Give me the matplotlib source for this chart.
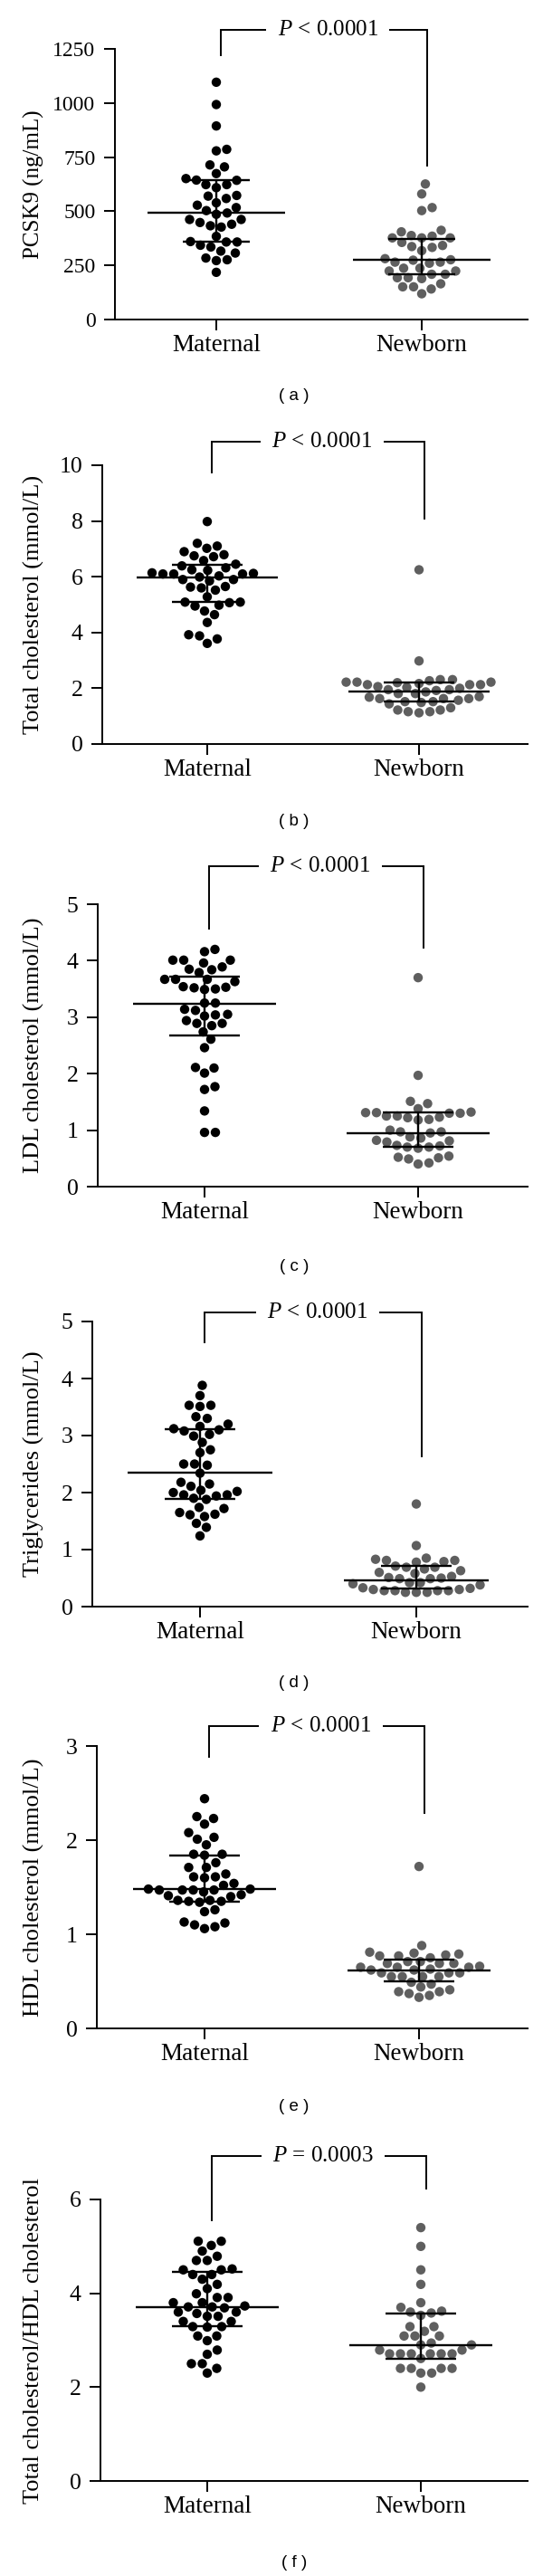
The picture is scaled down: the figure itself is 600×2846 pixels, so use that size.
import numpy as np
import matplotlib
matplotlib.use("Agg")
import matplotlib.pyplot as plt

plt.rcParams["font.family"] = ["Liberation Serif", "DejaVu Serif"]
plt.rcParams["mathtext.fontset"] = "custom"
plt.rcParams["mathtext.rm"] = "Liberation Serif"
plt.rcParams["mathtext.it"] = "Liberation Serif:italic"

W, H, DPI = 600, 2846, 100

groups = ["Maternal", "Newborn"]
tags = ["( a )", "( b )", "( c )", "( d )", "( e )", "( f )"]
ylabels = ["PCSK9 (ng/mL)", "Total cholesterol (mmol/L)", "LDL cholesterol (mmol/L)",
           "Triglycerides (mmol/L)", "HDL cholesterol (mmol/L)",
           "Total cholesterol/HDL cholesterol"]
p_texts = ["$P$ < 0.0001"] * 5 + ["$P$ = 0.0003"]
ymax = [1250, 10, 5, 5, 3, 6]
ystep = [250, 2, 1, 1, 1, 2]

# values
pcsk9_mat = [1096, 993, 894, 786, 779, 714, 705, 674, 651, 644, 643, 623, 623, 609, 573,
             570, 559, 539, 528, 517, 503, 492, 486, 462, 462, 448, 440, 433, 427, 384,
             360, 358, 358, 343, 335, 316, 307, 284, 276, 272, 218]
pcsk9_new = [626, 580, 517, 503, 412, 388, 377, 377, 377, 385, 405, 342, 333, 337, 356,
             318, 276, 265, 260, 265, 274, 281, 237, 224, 224, 237, 209, 193, 189, 193,
             209, 165, 151, 141, 151, 119]
tc_mat = [7.98, 7.20, 7.02, 7.10, 6.90, 6.79, 6.72, 6.75, 6.58, 6.45, 6.39, 6.32, 6.25,
          6.23, 6.12, 6.10, 6.03, 6.10, 6.10, 6.14, 5.99, 5.90, 5.90, 5.85, 5.63, 5.52,
          5.60, 5.65, 5.28, 5.09, 4.98, 4.95, 5.07, 5.09, 4.77, 4.64, 4.36, 3.88, 3.92,
          3.77, 3.61]
tc_new = [6.25, 2.98, 2.22, 2.22, 2.17, 2.13, 2.06, 2.31, 2.27, 2.31, 2.13, 2.13, 2.20,
          2.22, 1.95, 1.87, 1.81, 2.00, 1.95, 2.03, 1.81, 1.92, 1.52, 1.44, 1.63, 1.63,
          1.57, 1.63, 1.68, 1.70, 1.49, 1.52, 1.22, 1.16, 1.12, 1.16, 1.22, 1.30]
ldl_mat = [4.20, 4.16, 4.01, 4.01, 4.01, 3.96, 3.89, 3.84, 3.79, 3.85, 3.67, 3.67, 3.63,
           3.67, 3.53, 3.52, 3.49, 3.50, 3.54, 3.25, 3.25, 3.12, 3.14, 3.05, 3.02, 3.04,
           2.89, 2.85, 2.94, 2.89, 2.74, 2.61, 2.46, 2.10, 2.11, 2.01, 1.72, 1.77, 1.34,
           0.96, 0.96]
ldl_new = [3.70, 1.97, 1.47, 1.51, 1.38, 1.31, 1.30, 1.25, 1.23, 1.19, 1.18, 1.22, 1.25,
           1.30, 1.31, 1.32, 0.97, 0.97, 0.95, 1.00, 0.88, 0.82, 0.79, 0.72, 0.70, 0.68,
           0.70, 0.73, 0.81, 0.86, 0.52, 0.49, 0.40, 0.42, 0.51, 0.54]
tg_mat = [3.88, 3.70, 3.53, 3.51, 3.53, 3.33, 3.30, 3.16, 3.08, 3.20, 3.10, 3.12, 3.02,
          2.99, 2.88, 2.70, 2.75, 2.50, 2.48, 2.50, 2.34, 2.18, 2.15, 2.11, 2.02, 1.96,
          1.94, 1.90, 1.96, 2.00, 2.04, 1.88, 1.72, 1.74, 1.61, 1.58, 1.62, 1.65, 1.46,
          1.39, 1.24]
tg_new = [1.80, 1.07, 0.83, 0.81, 0.78, 0.79, 0.81, 0.85, 0.69, 0.66, 0.69, 0.71, 0.63,
          0.58, 0.60, 0.51, 0.49, 0.50, 0.49, 0.53, 0.42, 0.42, 0.40, 0.38, 0.33, 0.30,
          0.28, 0.28, 0.25, 0.25, 0.25, 0.28, 0.28, 0.30, 0.32]
hdl_mat = [2.44, 2.23, 2.25, 2.17, 2.08, 2.03, 2.01, 1.95, 1.85, 1.85, 1.84, 1.76, 1.71,
           1.71, 1.64, 1.61, 1.60, 1.61, 1.54, 1.52, 1.48, 1.47, 1.45, 1.47, 1.47, 1.47,
           1.48, 1.42, 1.40, 1.41, 1.36, 1.34, 1.36, 1.35, 1.35, 1.24, 1.26, 1.13, 1.10,
           1.06, 1.08, 1.12]
hdl_new = [1.72, 0.88, 0.80, 0.77, 0.77, 0.78, 0.79, 0.81, 0.75, 0.71, 0.71, 0.69, 0.69,
           0.69, 0.65, 0.63, 0.65, 0.62, 0.62, 0.65, 0.66, 0.59, 0.55, 0.55, 0.59, 0.55,
           0.55, 0.59, 0.44, 0.39, 0.37, 0.33, 0.35, 0.39, 0.41, 0.49, 0.47]
ratio_mat = [5.11, 5.11, 5.02, 4.90, 4.79, 4.70, 4.70, 4.50, 4.52, 4.50, 4.40, 4.40, 4.30,
             4.19, 4.10, 3.99, 3.91, 3.91, 3.80, 3.80, 3.71, 3.69, 3.73, 3.71, 3.60, 3.60,
             3.51, 3.51, 3.57, 3.40, 3.40, 3.29, 3.29, 3.28, 3.09, 3.09, 2.99, 2.79, 2.70,
             2.50, 2.50, 2.40, 2.30]
ratio_new = [5.40, 5.00, 4.50, 4.19, 3.80, 3.70, 3.62, 3.53, 3.58, 3.60, 3.29, 3.29, 3.19,
             3.09, 3.09, 3.09, 2.94, 2.90, 2.90, 2.79, 2.79, 2.71, 2.71, 2.71, 2.61, 2.71,
             2.71, 2.71, 2.40, 2.40, 2.30, 2.30, 2.40, 2.40, 2.00]

maternal = [pcsk9_mat, tc_mat, ldl_mat, tg_mat, hdl_mat, ratio_mat]
newborn = [pcsk9_new, tc_new, ldl_new, tg_new, hdl_new, ratio_new]

# centre line, lower bar, upper bar
mat_stats = [(492, 360, 644), (5.98, 5.09, 6.42), (3.23, 2.67, 3.72),
             (2.35, 1.89, 3.11), (1.48, 1.35, 1.84), (3.70, 3.29, 4.45)]
new_stats = [(275, 209, 373), (1.87, 1.52, 2.20), (0.95, 0.70, 1.31),
             (0.46, 0.32, 0.71), (0.62, 0.50, 0.73), (2.90, 2.61, 3.57)]

# bracket: top, left leg end, right leg end
brackets = [(1339, 1222, 710), (10.85, 9.75, 8.07), (5.67, 4.56, 4.23),
            (5.16, 4.64, 2.63), (3.21, 2.88, 2.29), (6.93, 5.56, 6.24)]

# layout in pixels: y-axis x, maternal x, newborn x, top, bottom, tag y
layout = [(127, 239, 466, 54, 353, 437),
          (113, 229, 463, 514, 822, 907),
          (108, 226, 462, 999, 1311, 1400),
          (102, 221, 460, 1460, 1775, 1860),
          (107, 226, 463, 1929, 2241, 2328),
          (111, 229, 465, 2430, 2741, 2832)]
RIGHT = 583
ytick_fs = [17, 18.5, 18.5, 18.5, 18.5, 18.5]
ylabel_fs = [18, 19, 19, 19, 19, 19]
NEW_COLOR = "#5f5f5f"


def swarm(vals, px_y, px_x, d=11.6):
    vals = np.asarray(vals, float)
    ys = vals * px_y
    steps = np.arange(0.5, 150, 0.5)
    cands = np.concatenate([[0.0], np.column_stack([steps, -steps]).ravel()])
    xs = np.zeros(len(vals))
    placed = []
    for i in np.argsort(vals):
        for c in cands:
            if all((c - px) ** 2 + (ys[i] - py) ** 2 >= d * d for px, py in placed):
                xs[i] = c
                placed.append((c, ys[i]))
                break
    return xs / px_x


fig = plt.figure(figsize=(W / DPI, H / DPI), dpi=DPI)

for k in range(6):
    left, xm, xn, top, bot, tag_y = layout[k]
    ax = fig.add_axes([left / W, 1 - bot / H, (RIGHT - left) / W, (bot - top) / H])
    unit = xn - xm
    ax.set_xlim((left - xm) / unit, (RIGHT - xm) / unit)
    ax.set_ylim(0, ymax[k])
    px_x = unit
    px_y = (bot - top) / ymax[k]

    for g, (vals, col, st) in enumerate([(maternal[k], "black", mat_stats[k]),
                                          (newborn[k], NEW_COLOR, new_stats[k])]):
        xs = g + swarm(vals, px_y, px_x)
        ax.scatter(xs, vals, s=56, color=col, edgecolors="none", zorder=2, clip_on=False)
        mid, lo, hi = st
        ax.hlines(mid, g - 0.333, g + 0.333, color="black", lw=1.7, zorder=3)
        ax.hlines([lo, hi], g - 0.165, g + 0.165, color="black", lw=1.7, zorder=3)
        ax.vlines(g, lo, hi, color="black", lw=1.7, zorder=3)

    btop, bl, br = brackets[k]
    xl, xr = 0.02, 1.025
    ax.plot([xl, xl, xr, xr], [bl, btop, btop, br], color="black", lw=1.4,
            clip_on=False, solid_joinstyle="miter")
    ax.text((xl + xr) / 2 + 0.02, btop, p_texts[k], ha="center", va="center",
            fontsize=18, zorder=4,
            bbox=dict(boxstyle="square,pad=0.5", fc="white", ec="none"))

    ax.set_xticks([0, 1])
    ax.set_xticklabels(groups, fontsize=19.5)
    ax.set_yticks(np.arange(0, ymax[k] + ystep[k] / 2, ystep[k]))
    ax.tick_params(axis="y", labelsize=ytick_fs[k], length=8.5, width=1.4, pad=7)
    ax.tick_params(axis="x", length=8.5, width=1.4, pad=3)
    for s in ["top", "right"]:
        ax.spines[s].set_visible(False)
    for s in ["left", "bottom"]:
        ax.spines[s].set_linewidth(1.4)

    fig.text(37 / W, 1 - (top + bot) / 2 / H, ylabels[k], rotation=90,
             ha="center", va="center", fontsize=ylabel_fs[k])
    fig.text(325 / W, 1 - tag_y / H, tags[k], ha="center", va="center",
             fontsize=13.5, family="Liberation Sans")

fig.savefig("out.png", dpi=DPI)
